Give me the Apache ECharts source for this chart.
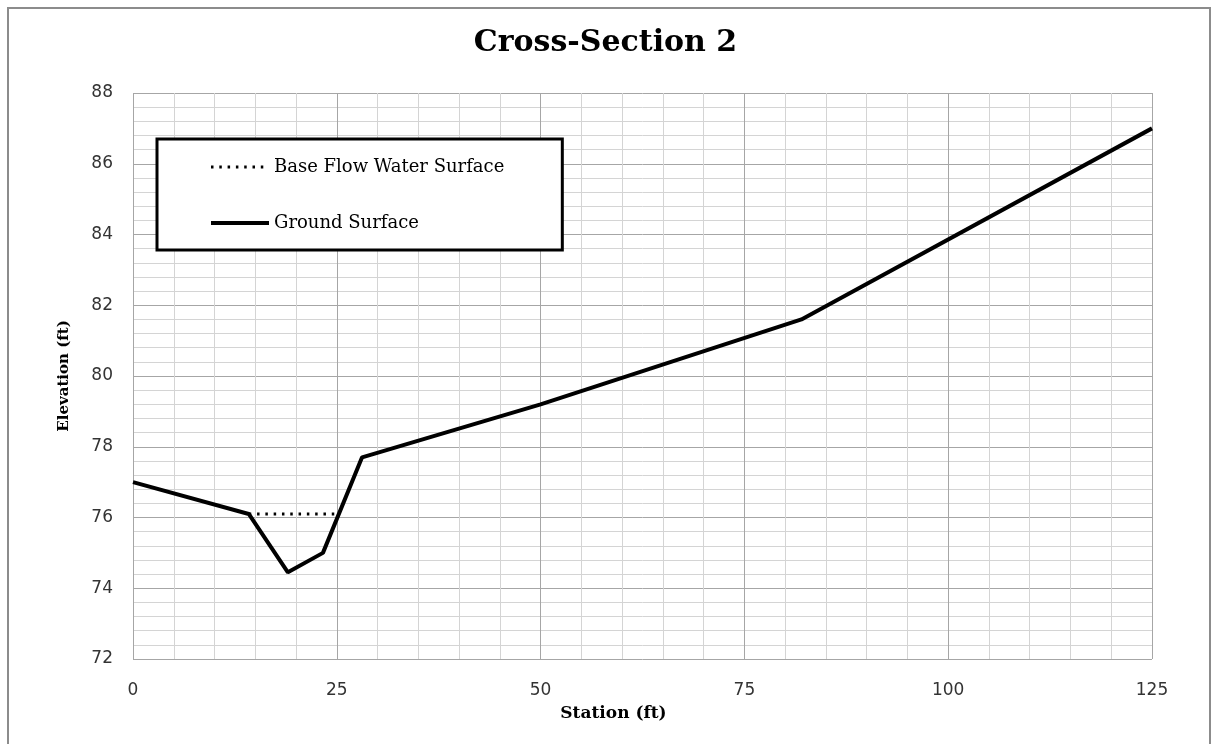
<!DOCTYPE html>
<html>
<head>
<meta charset="utf-8">
<script src="https://cdn.jsdelivr.net/npm/echarts@6/dist/echarts.min.js"></script>
<style>
html,body{margin:0;padding:0;background:#fff;}
#chart{width:1211px;height:744px;}
</style>
</head>
<body>
<div id="chart"></div>
<script>
// Data
const groundStation = [0, 14.2, 19.0, 23.3, 28.1, 50, 82, 125];
const groundElev    = [77.0, 76.1, 74.45, 75.0, 77.7, 79.2, 81.6, 87.0];
const waterStation  = [14.2, 25.2];
const waterElev     = [76.1, 76.1];
const seriesNames   = ['Base Flow Water Surface', 'Ground Surface'];

const zip = (a, b) => a.map((v, i) => [v, b[i]]);

const chart = echarts.init(document.getElementById('chart'), null, {renderer: 'canvas'});
const serif = '"DejaVu Serif", "Liberation Serif", serif';
const sans = '"DejaVu Sans", sans-serif';

chart.setOption({
  animation: false,
  backgroundColor: '#fff',
  title: {
    text: 'Cross-Section 2',
    left: 'center',
    top: 23,
    textStyle: {fontFamily: serif, fontWeight: 'bold', fontSize: 30, color: '#000'}
  },
  graphic: [{
    type: 'rect',
    shape: {x: 8, y: 8, width: 1202, height: 760},
    style: {fill: 'none', stroke: '#8c8c8c', lineWidth: 2},
    silent: true, z: -1
  }],
  grid: {left: 133, top: 93, right: 59, bottom: 85, containLabel: false},
  legend: {
    orient: 'vertical',
    left: 157, top: 139,
    padding: [19, 58, 18, 52],
    itemWidth: 58, itemHeight: 14, itemGap: 38,
    backgroundColor: '#fff',
    borderColor: '#000', borderWidth: 3,
    itemStyle: {color: 'rgba(0,0,0,0)', borderColor: 'rgba(0,0,0,0)', borderWidth: 0},
    textStyle: {fontFamily: serif, fontSize: 18, color: '#000', lineHeight: 14},
    data: [
      {name: seriesNames[0], lineStyle: {width: 3, type: [2.5, 5.8], color: '#000'}},
      {name: seriesNames[1], lineStyle: {width: 4, color: '#000'}}
    ]
  },
  xAxis: {
    type: 'value', min: 0, max: 125, interval: 25,
    name: 'Station (ft)', nameLocation: 'middle', nameGap: 46,
    nameTextStyle: {fontFamily: serif, fontWeight: 'bold', fontSize: 17, color: '#000', padding: [0, 58, 0, 0]},
    axisLine: {show: false}, axisTick: {show: false},
    axisLabel: {fontFamily: sans, fontSize: 17, color: '#333', margin: 23},
    splitLine: {show: true, lineStyle: {color: '#a6a6a6', width: 1}},
    minorTick: {show: false, splitNumber: 5},
    minorSplitLine: {show: true, lineStyle: {color: '#d4d4d4', width: 1}}
  },
  yAxis: {
    type: 'value', min: 72, max: 88, interval: 2,
    name: 'Elevation (ft)', nameLocation: 'middle', nameGap: 61, nameRotate: 90,
    nameTextStyle: {fontFamily: serif, fontWeight: 'bold', fontSize: 15, color: '#000'},
    axisLine: {show: false}, axisTick: {show: false},
    axisLabel: {fontFamily: sans, fontSize: 17, color: '#333', margin: 20},
    splitLine: {show: true, lineStyle: {color: '#a6a6a6', width: 1}},
    minorTick: {show: false, splitNumber: 5},
    minorSplitLine: {show: true, lineStyle: {color: '#d4d4d4', width: 1}}
  },
  series: [
    {
      name: seriesNames[0], type: 'line', symbol: 'none',
      data: zip(waterStation, waterElev),
      lineStyle: {color: '#000', width: 3, type: [2.5, 5.8]},
      itemStyle: {color: '#000'}, z: 3
    },
    {
      name: seriesNames[1], type: 'line', symbol: 'none',
      data: zip(groundStation, groundElev),
      lineStyle: {color: '#000', width: 4},
      itemStyle: {color: '#000'}, z: 4
    }
  ]
});
</script>
</body>
</html>
